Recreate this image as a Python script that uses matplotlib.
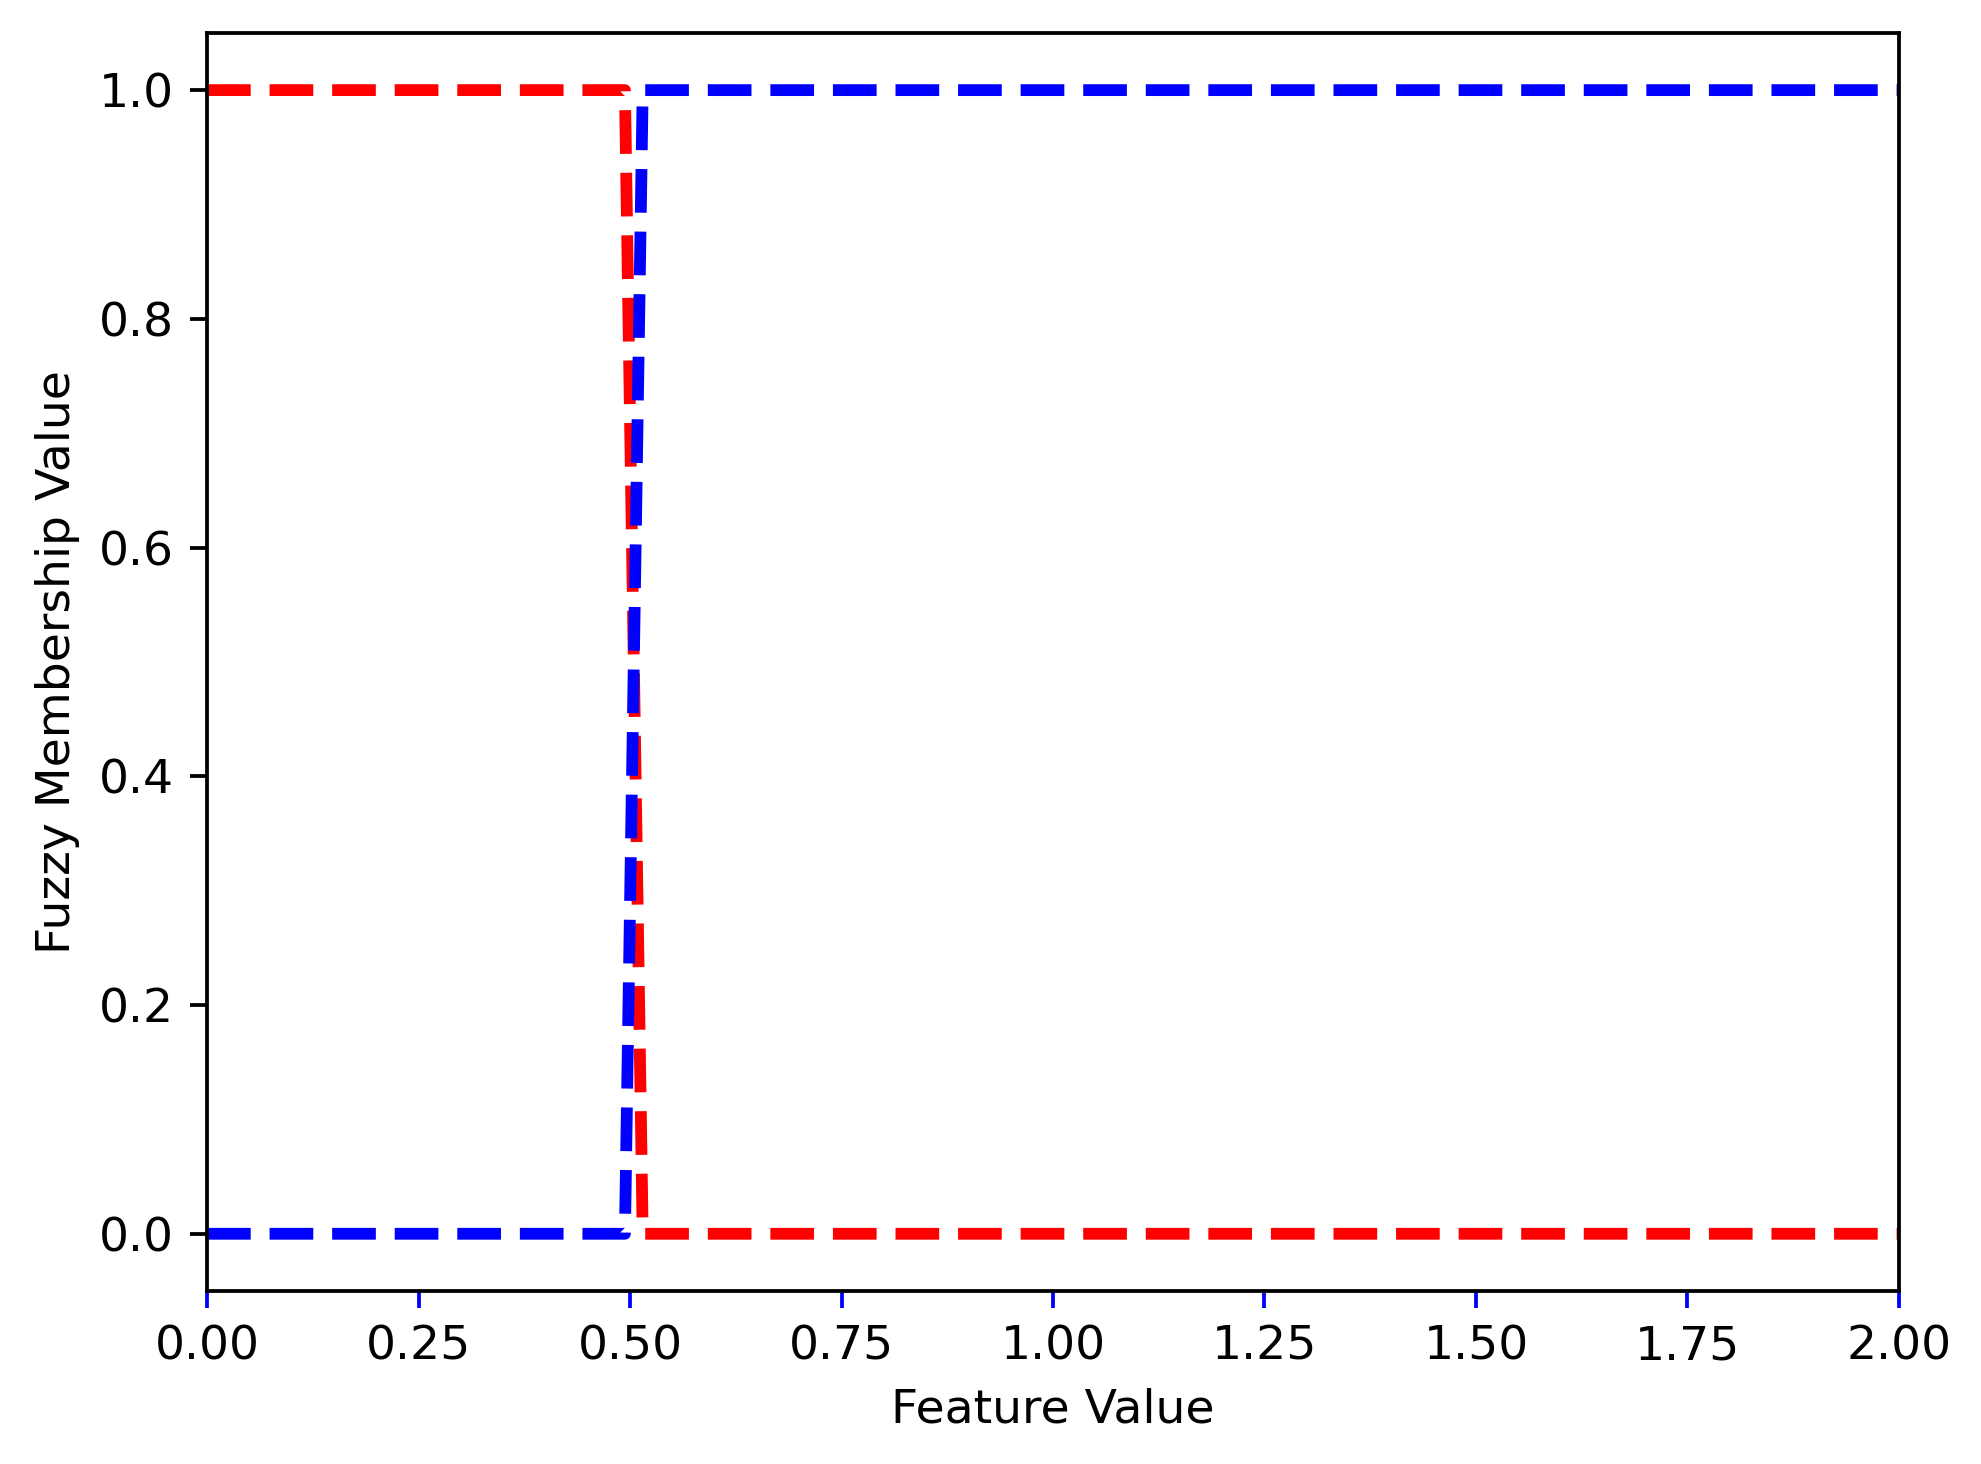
import matplotlib
matplotlib.use("Agg")
import matplotlib.pyplot as plt

# Data
feature_x = [0.0, 0.494, 0.515, 2.0]
membership_low = [1.0, 1.0, 0.0, 0.0]    # red
membership_high = [0.0, 0.0, 1.0, 1.0]   # blue

DPI = 340
fig = plt.figure(figsize=(1981 / DPI, 1464 / DPI), dpi=DPI)
ax = fig.add_axes([0.1045, 0.1182, 0.9586 - 0.1045, 0.9775 - 0.1182])

ax.plot(feature_x, membership_low, color='red', linestyle='--', linewidth=2.5)
ax.plot(feature_x, membership_high, color='blue', linestyle='--', linewidth=2.5)

ax.set_xlim(0, 2)
ax.set_xticks([0, 0.25, 0.5, 0.75, 1.0, 1.25, 1.5, 1.75, 2.0])
ax.set_xticklabels(['0.00', '0.25', '0.50', '0.75', '1.00', '1.25', '1.50', '1.75', '2.00'])
ax.tick_params(axis='x', color='blue')
ax.set_xlabel('Feature Value')
ax.set_ylabel('Fuzzy Membership Value')

fig.savefig('out.png', dpi=DPI)
